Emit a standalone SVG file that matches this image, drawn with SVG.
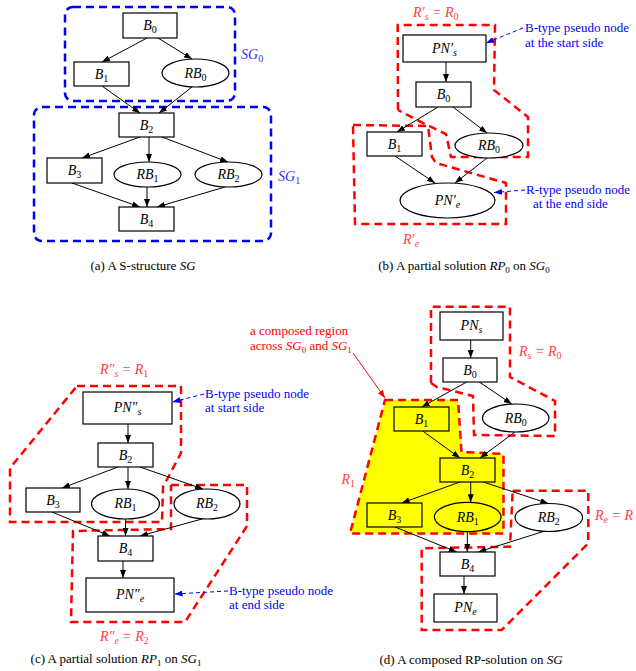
<svg xmlns="http://www.w3.org/2000/svg" width="636" height="671" viewBox="0 0 636 671">
<style>
.n{fill:#fff;stroke:#000;stroke-width:1.2}
.y{fill:#ff0;stroke:#000;stroke-width:1.2}
.e{stroke:#000;stroke-width:1;fill:none;marker-end:url(#ah)}
.rd{fill:none;stroke:#f00;stroke-width:2.5;stroke-dasharray:8 5}
.yr{fill:#ff0;stroke:#f00;stroke-width:2.5;stroke-dasharray:8 5}
.bd{fill:none;stroke:#00f;stroke-width:2.5;stroke-dasharray:8 5}
.ld{fill:none;stroke:#00f;stroke-width:1;stroke-dasharray:4 3;marker-end:url(#bh)}
.t{font-family:"Liberation Serif",serif;font-size:14px;font-style:italic;text-anchor:middle;fill:#000}
.m{font-family:"Liberation Serif",serif;font-size:14px;font-style:italic}
.sb{font-size:10px;font-style:normal}
.si{font-size:10px}
.cap{font-family:"Liberation Serif",serif;font-size:13px;fill:#000;text-anchor:middle}
.bl{font-family:"Liberation Serif",serif;font-size:13px;fill:#00f}
.rt{font-family:"Liberation Serif",serif;font-size:13px;fill:#f00}
.rl{fill:#ff4040}
.blu{fill:#3030ff}
</style>
<defs>
<marker id="ah" markerWidth="8" markerHeight="6" refX="8" refY="3" orient="auto" markerUnits="userSpaceOnUse"><path d="M0,0 L8,3 L0,6 z" fill="#000"/></marker>
<marker id="bh" markerWidth="8" markerHeight="6" refX="8" refY="3" orient="auto" markerUnits="userSpaceOnUse"><path d="M0,0 L8,3 L0,6 z" fill="#00f"/></marker>
<marker id="rh" markerWidth="8" markerHeight="6" refX="8" refY="3" orient="auto" markerUnits="userSpaceOnUse"><path d="M0,0 L8,3 L0,6 z" fill="#f00"/></marker>
</defs>

<!-- ===== Panel (a) ===== -->
<g id="a_regions">
<rect class="bd" x="65" y="7" width="170" height="94" rx="8"/>
<rect class="bd" x="34" y="107" width="237" height="134" rx="8"/>
<text class="m blu" x="241" y="59">SG<tspan class="sb" dy="3">0</tspan></text>
<text class="m blu" x="278" y="181">SG<tspan class="sb" dy="3">1</tspan></text>
</g>
<g id="a_edges">
<line class="e" x1="147" y1="38" x2="102" y2="62"/>
<line class="e" x1="158" y1="38" x2="192" y2="59"/>
<line class="e" x1="102" y1="86" x2="140" y2="113"/>
<line class="e" x1="192" y1="87" x2="159" y2="113"/>
<line class="e" x1="140" y1="137" x2="82" y2="158"/>
<line class="e" x1="149" y1="137" x2="149" y2="162"/>
<line class="e" x1="162" y1="137" x2="228" y2="162"/>
<line class="e" x1="72" y1="183" x2="140" y2="207"/>
<line class="e" x1="147" y1="187" x2="147" y2="207"/>
<line class="e" x1="225" y1="187" x2="157" y2="207"/>
</g>
<g id="a_B0"><rect class="n" x="123" y="13" width="54" height="25"/><text class="t" x="150" y="30">B<tspan class="sb" dy="3">0</tspan></text></g>
<g id="a_B1"><rect class="n" x="74" y="62" width="55" height="24"/><text class="t" x="101.5" y="79">B<tspan class="sb" dy="3">1</tspan></text></g>
<g id="a_RB0"><ellipse class="n" cx="195.5" cy="73" rx="33.5" ry="14"/><text class="t" x="195.5" y="78">RB<tspan class="sb" dy="3">0</tspan></text></g>
<g id="a_B2"><rect class="n" x="119" y="113" width="55" height="24"/><text class="t" x="146.5" y="130">B<tspan class="sb" dy="3">2</tspan></text></g>
<g id="a_B3"><rect class="n" x="47" y="158" width="55" height="25"/><text class="t" x="74.5" y="175">B<tspan class="sb" dy="3">3</tspan></text></g>
<g id="a_RB1"><ellipse class="n" cx="147.5" cy="174.5" rx="33.5" ry="12.5"/><text class="t" x="147.5" y="179">RB<tspan class="sb" dy="3">1</tspan></text></g>
<g id="a_RB2"><ellipse class="n" cx="228.5" cy="174.5" rx="33.5" ry="12.5"/><text class="t" x="228.5" y="179">RB<tspan class="sb" dy="3">2</tspan></text></g>
<g id="a_B4"><rect class="n" x="119" y="207" width="55" height="24"/><text class="t" x="146.5" y="224">B<tspan class="sb" dy="3">4</tspan></text></g>
<text class="cap" x="143" y="270">(a) A S-structure <tspan font-style="italic">SG</tspan></text>

<!-- ===== Panel (b) ===== -->
<g id="b_regions">
<polyline class="rd" points="398,110 397.7,25 495,25 494,90 528,117 528,157 451,157 446,134 425,124 398,110"/>
<polyline class="rd" points="353,125 428,126 432,157 436,163 506,183 506,224 355,224 353,125"/>
<text class="m rl" x="413" y="17">R′<tspan class="si" dy="3">s</tspan><tspan dy="-3"> = R</tspan><tspan class="sb" dy="3">0</tspan></text>
<text class="m rl" x="403" y="244">R′<tspan class="si" dy="3">e</tspan></text>
</g>
<g id="b_edges">
<line class="e" x1="446" y1="62" x2="446" y2="82"/>
<line class="e" x1="438" y1="107" x2="397" y2="132"/>
<line class="e" x1="453" y1="107" x2="487" y2="133"/>
<line class="e" x1="395" y1="156" x2="435" y2="183"/>
<line class="e" x1="487" y1="158" x2="455" y2="183"/>
</g>
<g id="b_PNs"><rect class="n" x="403" y="35" width="83" height="27"/><text class="t" x="444.5" y="53">PN′<tspan class="si" dy="3">s</tspan></text></g>
<g id="b_B0"><rect class="n" x="416" y="82" width="55" height="25"/><text class="t" x="443.5" y="99">B<tspan class="sb" dy="3">0</tspan></text></g>
<g id="b_B1"><rect class="n" x="367" y="132" width="55" height="24"/><text class="t" x="394.5" y="149">B<tspan class="sb" dy="3">1</tspan></text></g>
<g id="b_RB0"><ellipse class="n" cx="489" cy="145.5" rx="34" ry="12.5"/><text class="t" x="489" y="150">RB<tspan class="sb" dy="3">0</tspan></text></g>
<g id="b_PNe"><ellipse class="n" cx="447.5" cy="200.5" rx="47.5" ry="17.5"/><text class="t" x="447.5" y="205">PN′<tspan class="si" dy="3">e</tspan></text></g>
<g id="b_notes">
<line class="ld" x1="523" y1="28" x2="486" y2="43"/>
<text class="bl" x="525" y="32">B-type pseudo node</text>
<text class="bl" x="525" y="47">at the start side</text>
<line class="ld" x1="525" y1="190" x2="494" y2="192.5"/>
<text class="bl" x="526" y="194">R-type pseudo node</text>
<text class="bl" x="533" y="208">at the end side</text>
</g>
<text class="cap" x="464" y="270">(b) A partial solution <tspan font-style="italic">RP</tspan><tspan font-size="9" dy="3">0</tspan><tspan dy="-3"> on </tspan><tspan font-style="italic">SG</tspan><tspan font-size="9" dy="3">0</tspan></text>

<!-- ===== Panel (c) ===== -->
<g id="c_regions">
<polyline class="rd" points="77,386 181,386 181,453 163,487 162,522 10,522 10,468 77,386"/>
<polyline class="rd" points="171,485 247,485 247,526 185,622 71,622 73,531 171,529 171,485"/>
<text class="m rl" x="100" y="374">R″<tspan class="si" dy="3">s</tspan><tspan dy="-3"> = R</tspan><tspan class="sb" dy="3">1</tspan></text>
<text class="m rl" x="100" y="641">R″<tspan class="si" dy="3">e</tspan><tspan dy="-3"> = R</tspan><tspan class="sb" dy="3">2</tspan></text>
</g>
<g id="c_edges">
<line class="e" x1="128" y1="424" x2="128" y2="443"/>
<line class="e" x1="118" y1="467" x2="62" y2="488"/>
<line class="e" x1="128" y1="467" x2="128" y2="489"/>
<line class="e" x1="140" y1="467" x2="203" y2="489"/>
<line class="e" x1="52" y1="512" x2="110" y2="536"/>
<line class="e" x1="125.5" y1="519" x2="125.5" y2="536"/>
<line class="e" x1="202" y1="519" x2="140" y2="536"/>
<line class="e" x1="123" y1="561" x2="123" y2="578"/>
</g>
<g id="c_PNs"><rect class="n" x="83" y="392" width="89" height="32"/><text class="t" x="127.5" y="412">PN″<tspan class="si" dy="3">s</tspan></text></g>
<g id="c_B2"><rect class="n" x="98" y="443" width="55" height="24"/><text class="t" x="125.5" y="460">B<tspan class="sb" dy="3">2</tspan></text></g>
<g id="c_B3"><rect class="n" x="26" y="488" width="54" height="24"/><text class="t" x="53" y="505">B<tspan class="sb" dy="3">3</tspan></text></g>
<g id="c_RB1"><ellipse class="n" cx="125.5" cy="504" rx="34" ry="15"/><text class="t" x="125.5" y="508">RB<tspan class="sb" dy="3">1</tspan></text></g>
<g id="c_RB2"><ellipse class="n" cx="207" cy="504" rx="33" ry="15"/><text class="t" x="207" y="508">RB<tspan class="sb" dy="3">2</tspan></text></g>
<g id="c_B4"><rect class="n" x="98" y="536" width="55" height="25"/><text class="t" x="125.5" y="553">B<tspan class="sb" dy="3">4</tspan></text></g>
<g id="c_PNe"><rect class="n" x="86" y="578" width="88" height="34"/><text class="t" x="130" y="599">PN″<tspan class="si" dy="3">e</tspan></text></g>
<g id="c_notes">
<line class="ld" x1="204" y1="394" x2="172.5" y2="402"/>
<text class="bl" x="205" y="398">B-type pseudo node</text>
<text class="bl" x="205" y="412">at start side</text>
<line class="ld" x1="228" y1="591" x2="174.5" y2="594"/>
<text class="bl" x="229" y="595">B-type pseudo node</text>
<text class="bl" x="229" y="609">at end side</text>
</g>
<text class="cap" x="116" y="663">(c) A partial solution <tspan font-style="italic">RP</tspan><tspan font-size="9" dy="3">1</tspan><tspan dy="-3"> on </tspan><tspan font-style="italic">SG</tspan><tspan font-size="9" dy="3">1</tspan></text>

<!-- ===== Panel (d) ===== -->
<g id="d_regions">
<polygon class="yr" points="385,400 458,400 461.5,452 503.5,454 503.5,533.5 350,533.5"/>
<polyline class="rd" points="431,383 431,306.7 510,306.7 510,377 555,401 555,436 474,435 473,396 437,387 431,383"/>
<polyline class="rd" points="512.7,490.7 588.3,490.7 588.3,543.3 501.7,630 421.7,630 421.7,548.3 510,546.7 512.7,490.7"/>
<text class="m rl" x="519" y="356">R<tspan class="si" dy="3">s</tspan><tspan dy="-3"> = R</tspan><tspan class="sb" dy="3">0</tspan></text>
<text class="m rl" x="341.5" y="484">R<tspan class="sb" dy="3">1</tspan></text>
<text class="m rl" x="595" y="520">R<tspan class="si" dy="3">e</tspan><tspan dy="-3"> = R</tspan></text>
<text class="rt" x="250" y="335">a composed region</text>
<text class="rt" x="250" y="350">across <tspan font-style="italic">SG</tspan><tspan font-size="9" dy="3">0</tspan><tspan dy="-3"> and </tspan><tspan font-style="italic">SG</tspan><tspan font-size="9" dy="3">1</tspan></text>
<line x1="353" y1="353" x2="385" y2="398" stroke="#f00" stroke-width="1" marker-end="url(#rh)"/>
</g>
<g id="d_edges">
<line class="e" x1="470.7" y1="340" x2="470.7" y2="358"/>
<line class="e" x1="466.7" y1="382" x2="421.7" y2="407"/>
<line class="e" x1="479.3" y1="382" x2="511.7" y2="404"/>
<line class="e" x1="422.7" y1="431" x2="460" y2="458"/>
<line class="e" x1="515" y1="432" x2="480" y2="458"/>
<line class="e" x1="460" y1="482" x2="401.7" y2="503"/>
<line class="e" x1="470.7" y1="482" x2="470.7" y2="502.3"/>
<line class="e" x1="483.3" y1="482" x2="548.3" y2="503.5"/>
<line class="e" x1="395" y1="527" x2="456.7" y2="552"/>
<line class="e" x1="467.3" y1="531.7" x2="467.3" y2="552"/>
<line class="e" x1="543.3" y1="531.5" x2="478.3" y2="552"/>
<line class="e" x1="464" y1="576" x2="464" y2="594"/>
</g>
<g id="d_PNs"><rect class="n" x="440" y="312" width="63" height="28"/><text class="t" x="471.5" y="330">PN<tspan class="si" dy="3">s</tspan></text></g>
<g id="d_B0"><rect class="n" x="443" y="358" width="54" height="24"/><text class="t" x="470" y="375">B<tspan class="sb" dy="3">0</tspan></text></g>
<g id="d_B1"><rect class="y" x="394" y="407" width="55" height="24"/><text class="t" x="421.5" y="424">B<tspan class="sb" dy="3">1</tspan></text></g>
<g id="d_RB0"><ellipse class="n" cx="515.7" cy="418" rx="33.3" ry="14"/><text class="t" x="515.7" y="423">RB<tspan class="sb" dy="3">0</tspan></text></g>
<g id="d_B2"><rect class="y" x="440" y="458" width="55" height="24"/><text class="t" x="467.5" y="475">B<tspan class="sb" dy="3">2</tspan></text></g>
<g id="d_B3"><rect class="y" x="367" y="503" width="55" height="24"/><text class="t" x="394.5" y="520">B<tspan class="sb" dy="3">3</tspan></text></g>
<g id="d_RB1"><ellipse class="y" cx="467.7" cy="517" rx="33.3" ry="14.7"/><text class="t" x="467.7" y="522">RB<tspan class="sb" dy="3">1</tspan></text></g>
<g id="d_RB2"><ellipse class="n" cx="548.8" cy="517.5" rx="33.8" ry="14"/><text class="t" x="548.8" y="522">RB<tspan class="sb" dy="3">2</tspan></text></g>
<g id="d_B4"><rect class="n" x="440" y="552" width="55" height="24"/><text class="t" x="467.5" y="569">B<tspan class="sb" dy="3">4</tspan></text></g>
<g id="d_PNe"><rect class="n" x="434" y="594" width="63" height="28"/><text class="t" x="465.5" y="612">PN<tspan class="si" dy="3">e</tspan></text></g>
<text class="cap" x="471" y="664">(d) A composed RP-solution on <tspan font-style="italic">SG</tspan></text>
</svg>
